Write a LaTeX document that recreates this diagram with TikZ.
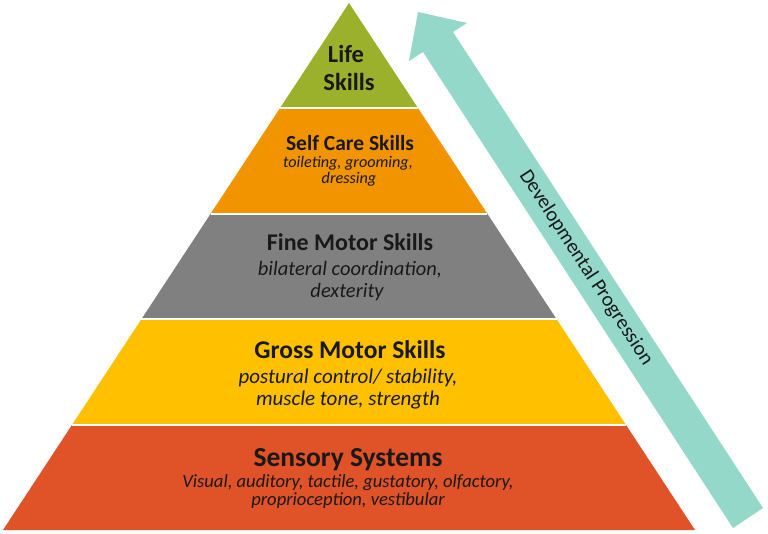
\documentclass[tikz,border=0pt]{standalone}
\usepackage{fontspec}
\setmainfont{Carlito}
\usetikzlibrary{calc}
\definecolor{lifegreen}{RGB}{155,177,44}
\definecolor{careorange}{RGB}{242,148,0}
\definecolor{finegray}{RGB}{128,128,128}
\definecolor{grossgold}{RGB}{255,192,0}
\definecolor{sensered}{RGB}{224,82,40}
\definecolor{progteal}{RGB}{147,216,200}
\tikzset{
	title/.style={anchor=base,text=black!90,inner sep=0pt},
	detail/.style={anchor=base,text=black!90,inner sep=0pt},
}
\newcommand{\fs}[1]{\fontsize{#1}{#1}\selectfont}
\begin{document}
\begin{tikzpicture}[x=1pt,y=-1pt]
				\useasboundingbox (0,0) rectangle (768,533);
				\coordinate (apex) at (349,3);
				\coordinate (bl) at (3,530);
				\coordinate (br) at (695,530);
				\foreach \t/\b/\c in {0/0.2/lifegreen,0.2/0.4/careorange,0.4/0.6/finegray,0.6/0.8/grossgold,0.8/1/sensered}{
					\fill[\c] ($(apex)!\t!(bl)$)--($(apex)!\t!(br)$)--($(apex)!\b!(br)$)--($(apex)!\b!(bl)$)--cycle;
				}
				\foreach \t in {0.2,0.4,0.6,0.8}{
					\draw[white,line width=2] ($(apex)!\t!(bl)$)--($(apex)!\t!(br)$);
				}
				\fill[progteal] (733,528)--(763,508)--(453,32)--(467,23)--(418,12)--(409,61)--(423,52)--cycle;
				\node[rotate=-56.9,text=black!90,font=\fs{20.5}] (prog) at (586,268) {Developmental Progression};
				\node[title,font=\bfseries\fs{24.5}] (life1) at (346,62) {Life};
				\node[title,font=\bfseries\fs{24.5}] (life2) at (349,90) {Skills};
				\node[title,font=\bfseries\fs{21.5}] (care) at (350,150) {Self Care Skills};
				\node[detail,font=\itshape\fs{16.2}] (care1) at (348,167) {toileting, grooming,};
				\node[detail,font=\itshape\fs{16.2}] (care2) at (349,183) {dressing};
				\node[title,font=\bfseries\fs{24}] (fine) at (350,250) {Fine Motor Skills};
				\node[detail,font=\itshape\fs{20.5}] (fine1) at (350,275) {bilateral coordination,};
				\node[detail,font=\itshape\fs{20.5}] (fine2) at (347,297) {dexterity};
				\node[title,font=\bfseries\fs{25.5}] (gross) at (350,358) {Gross Motor Skills};
				\node[detail,font=\itshape\fs{21}] (gross1) at (348,383) {postural control/ stability,};
				\node[detail,font=\itshape\fs{21}] (gross2) at (348,405) {muscle tone, strength};
				\node[title,font=\bfseries\fs{27.5}] (sense) at (348,466) {Sensory Systems};
				\node[detail,font=\itshape\fs{18.6}] (sense1) at (348,487) {Visual, auditory, tactile, gustatory, olfactory,};
				\node[detail,font=\itshape\fs{18.6}] (sense2) at (348,505) {proprioception, vestibular};
\end{tikzpicture}
\end{document}
